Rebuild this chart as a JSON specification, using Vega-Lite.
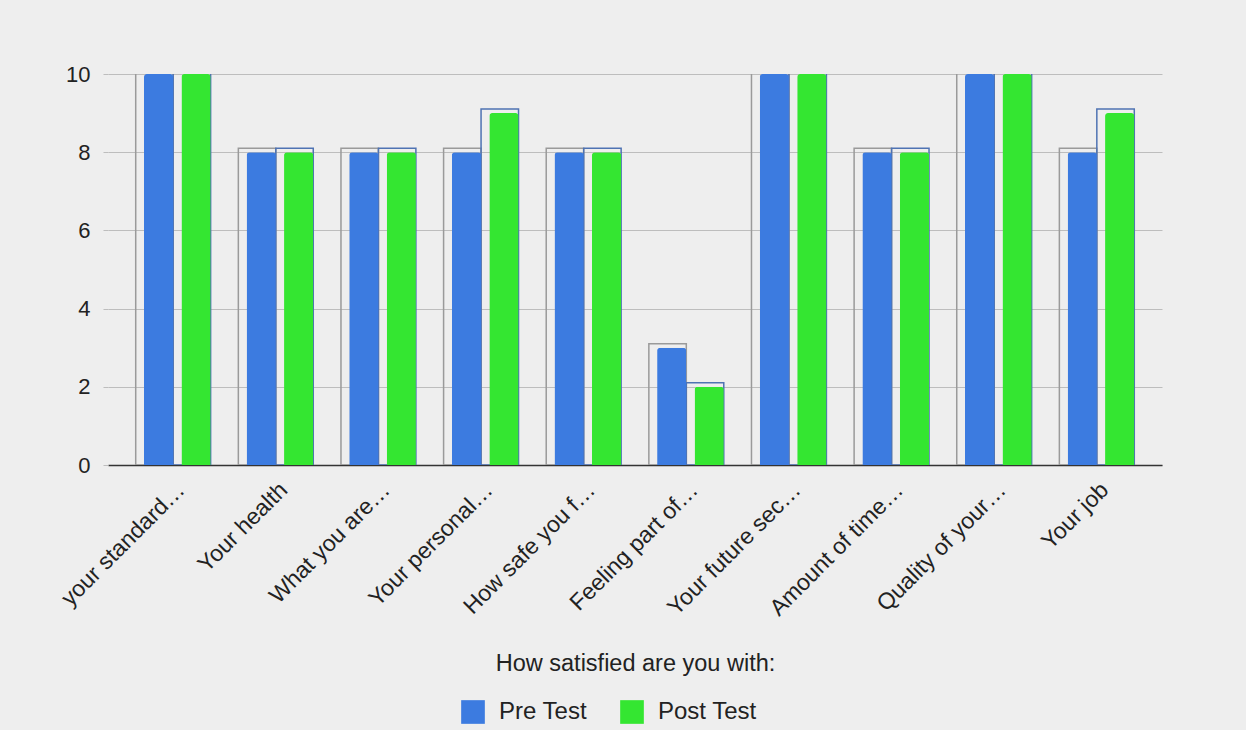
{
  "$schema": "https://vega.github.io/schema/vega-lite/v6.json",
  "width": 1054,
  "height": 391,
  "autosize": {"type": "none"},
  "padding": {"left": 108, "top": 74, "right": 84, "bottom": 265},
  "background": "#eeeeee",
  "config": {
    "font": "Liberation Sans",
    "view": {"stroke": null}
  },
  "data": {
    "values": [
      {"question": "your standard…", "series": "Pre Test", "score": 10},
      {"question": "your standard…", "series": "Post Test", "score": 10},
      {"question": "Your health", "series": "Pre Test", "score": 8},
      {"question": "Your health", "series": "Post Test", "score": 8},
      {"question": "What you are…", "series": "Pre Test", "score": 8},
      {"question": "What you are…", "series": "Post Test", "score": 8},
      {"question": "Your personal…", "series": "Pre Test", "score": 8},
      {"question": "Your personal…", "series": "Post Test", "score": 9},
      {"question": "How safe you f…", "series": "Pre Test", "score": 8},
      {"question": "How safe you f…", "series": "Post Test", "score": 8},
      {"question": "Feeling part of…", "series": "Pre Test", "score": 3},
      {"question": "Feeling part of…", "series": "Post Test", "score": 2},
      {"question": "Your future sec…", "series": "Pre Test", "score": 10},
      {"question": "Your future sec…", "series": "Post Test", "score": 10},
      {"question": "Amount of time…", "series": "Pre Test", "score": 8},
      {"question": "Amount of time…", "series": "Post Test", "score": 8},
      {"question": "Quality of your…", "series": "Pre Test", "score": 10},
      {"question": "Quality of your…", "series": "Post Test", "score": 10},
      {"question": "Your job", "series": "Pre Test", "score": 8},
      {"question": "Your job", "series": "Post Test", "score": 9}
    ]
  },
  "encoding": {
    "x": {
      "field": "question",
      "type": "nominal",
      "sort": null,
      "scale": {"paddingInner": 0.27, "paddingOuter": 0.27},
      "axis": {
        "title": "How satisfied are you with:",
        "titleFontSize": 23.5,
        "titleFontWeight": "normal",
        "titleColor": "#222222",
        "titleY": 186,
        "labelAngle": -45,
        "labelAlign": "right",
        "labelBaseline": "middle",
        "labelFontSize": 23,
        "labelColor": "#222222",
        "labelLimit": 0,
        "labelOffset": 8,
        "labelPadding": 21,
        "ticks": false,
        "grid": false,
        "domainColor": "#333333",
        "domainWidth": 1.5
      }
    },
    "xOffset": {
      "field": "series",
      "type": "nominal",
      "sort": ["Pre Test", "Post Test"],
      "scale": {"paddingInner": 0, "paddingOuter": 0}
    },
    "y": {
      "field": "score",
      "type": "quantitative",
      "scale": {"domain": [0, 10]},
      "axis": {
        "title": null,
        "values": [0, 2, 4, 6, 8, 10],
        "labelFontSize": 22,
        "labelColor": "#222222",
        "labelPadding": 13,
        "tickSize": 5,
        "tickColor": "#bdbdbd",
        "domain": false,
        "gridColor": "#bdbdbd",
        "gridWidth": 1.2
      }
    }
  },
  "layer": [
    {
      "mark": {
        "type": "bar",
        "fill": "transparent",
        "strokeWidth": 1.5,
        "width": {"band": 1},
        "yOffset": -4,
        "y2Offset": 0,
        "clip": true
      },
      "encoding": {
        "y2": {"datum": 0},
        "stroke": {
          "condition": {"test": "datum.series === 'Pre Test'", "value": "#9a9a9a"},
          "value": "#4f73b3"
        }
      }
    },
    {
      "mark": {
        "type": "bar",
        "width": {"band": 0.78},
        "cornerRadiusTopLeft": 3,
        "cornerRadiusTopRight": 3
      },
      "encoding": {
        "color": {
          "field": "series",
          "type": "nominal",
          "sort": ["Pre Test", "Post Test"],
          "scale": {"domain": ["Pre Test", "Post Test"], "range": ["#3c7be0", "#34e631"]},
          "legend": {
            "orient": "none",
            "legendX": 353,
            "legendY": 626,
            "direction": "horizontal",
            "title": null,
            "symbolType": "square",
            "symbolSize": 560,
            "symbolStrokeWidth": 0,
            "symbolOpacity": 1,
            "labelFontSize": 24,
            "labelColor": "#222222",
            "labelOffset": 14,
            "columnPadding": 32
          }
        }
      }
    }
  ]
}
